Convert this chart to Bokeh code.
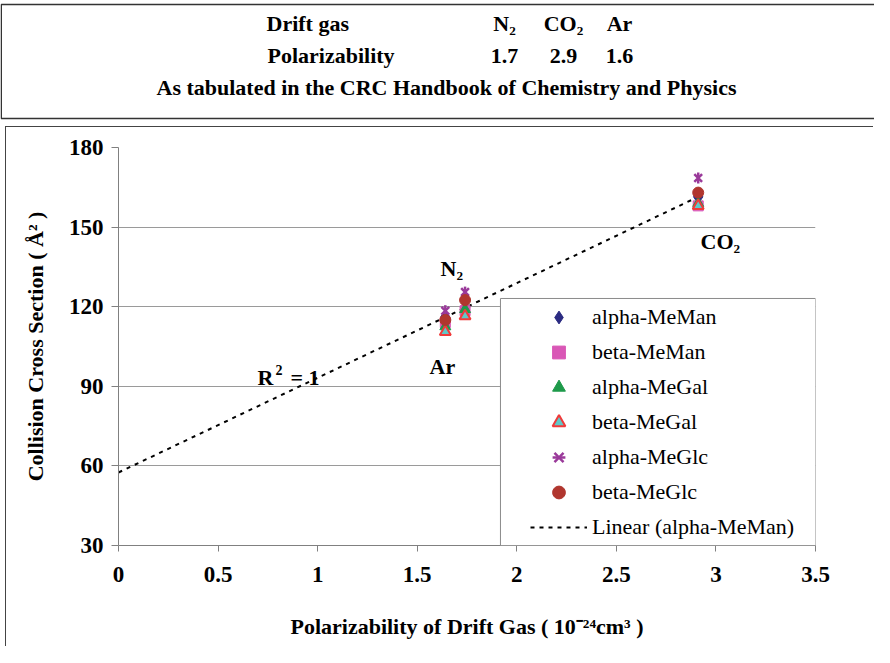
import numpy as np
from bokeh.plotting import figure
from bokeh.layouts import column, row
from bokeh.models import (Range1d, FixedTicker, Label, Legend, LegendItem,
                          BoxAnnotation, Spacer)
from bokeh.core.properties import value
from bokeh.embed import file_html
from bokeh.resources import INLINE

# ---------------- data ----------------
gases = ["N₂", "CO₂", "Ar"]
polarizability = [1.7403, 2.911, 1.6411]          # 10^-24 cm^3
alpha_meman = [119.6, 161.4, 116.1]
beta_meman = [118.5, 158.0, 114.0]
alpha_megal = [119.0, 159.0, 112.5]
beta_megal = [116.5, 158.0, 110.5]
alpha_meglc = [125.5, 168.5, 118.5]
beta_meglc = [122.5, 163.0, 115.0]
series_names = ["alpha-MeMan", "beta-MeMan", "alpha-MeGal", "beta-MeGal",
                "alpha-MeGlc", "beta-MeGlc"]
trend_name = "Linear (alpha-MeMan)"
x_ticks = [0, 0.5, 1, 1.5, 2, 2.5, 3, 3.5]
y_ticks = [30, 60, 90, 120, 150, 180]
header_row1 = "Drift gas"
header_row2 = "Polarizability"
header_row3 = "As tabulated in the CRC Handbook of Chemistry and Physics"

FONT = "Liberation Serif"

# ---------------- header table ----------------
hdr = figure(width=874, height=126, x_range=Range1d(8, 882), y_range=Range1d(134, 8),
             output_backend="svg", toolbar_location=None,
             x_axis_location=None, y_axis_location=None,
             min_border_left=0, min_border_right=0, min_border_top=0, min_border_bottom=0)
hdr.frame_align = False
hdr.grid.visible = False
hdr.outline_line_color = None
hdr.background_fill_color = "white"
hdr.add_layout(BoxAnnotation(left=8.75, right=900, top=12, bottom=126,
                             fill_alpha=0, line_color="#333333", line_alpha=1.0,
                             line_width=1.5))

col_x = [512, 571, 627]
txt_kw = dict(text_font=value(FONT), text_font_style="bold", text_font_size="22px",
              text_baseline="middle", text_color="black")
hdr.text(x=[274, 275], y=[31, 63], text=[header_row1, header_row2],
         text_align="left", **txt_kw)
hdr.text(x=col_x, y=[31] * 3, text=gases, text_align="center", **txt_kw)
hdr.text(x=col_x, y=[63] * 3, text=[f"{v:.1f}" for v in polarizability],
         text_align="center", **txt_kw)
hdr.text(x=[454], y=[95], text=[header_row3], text_align="center", **txt_kw)

# ---------------- main chart ----------------
p = figure(width=868, height=520, x_range=Range1d(0, 3.5), y_range=Range1d(30, 180),
           output_backend="svg", toolbar_location=None,
           min_border_left=112, min_border_right=59, min_border_top=20, min_border_bottom=102,
           styles={"border-left": "1px solid #444444", "border-top": "1px solid #444444"})
p.frame_align = False
p.outline_line_color = None
p.xgrid.visible = False
p.ygrid.grid_line_color = "#9a9a9a"
p.ygrid.grid_line_width = 1

for ax in (p.xaxis[0], p.yaxis[0]):
    ax.axis_line_color = "#808080"
    ax.major_tick_line_color = "#808080"
    ax.minor_tick_line_color = None
    ax.major_tick_in = 0
    ax.major_label_text_font = FONT
    ax.major_label_text_font_style = "bold"
    ax.major_label_text_font_size = "23px"
    ax.major_label_text_color = "black"
    ax.axis_label_text_font = FONT
    ax.axis_label_text_font_style = "bold"
    ax.axis_label_text_font_size = "22px"
    ax.axis_label_text_color = "black"

p.xaxis.ticker = FixedTicker(ticks=x_ticks)
p.yaxis.ticker = FixedTicker(ticks=y_ticks)
p.xaxis.major_label_overrides = {0: "0", 1: "1", 2: "2", 3: "3"}
p.xaxis.major_tick_out = 6
p.yaxis.major_tick_out = 7
p.xaxis.major_label_standoff = 15
p.yaxis.major_label_standoff = 8
p.xaxis.axis_label = "Polarizability of Drift Gas ( 10⁻²⁴cm³ )"
p.yaxis.axis_label = "Collision Cross Section ( Å² )"
p.xaxis.axis_label_standoff = 29
p.yaxis.axis_label_standoff = 18

# linear trendline of alpha-MeMan
coef = np.polyfit(polarizability, alpha_meman, 1)
tx = [0.0, max(polarizability)]
ty = list(np.polyval(coef, tx))
r_trend = p.line(tx, ty, line_color="black", line_width=2, line_dash="4 5")

r1 = p.scatter(polarizability, alpha_meman, marker="diamond", size=14,
               fill_color="#2b2b82", line_color="#2b2b82")
r2 = p.scatter(polarizability, beta_meman, marker="square", size=10,
               fill_color="#d957b6", line_color="#d957b6")
r3 = p.scatter(polarizability, alpha_megal, marker="triangle", size=11,
               fill_color="#1e9a4a", line_color="#1e9a4a")
r4 = p.scatter(polarizability, beta_megal, marker="triangle", size=11,
               fill_color="#5fc8c8", line_color="#f03a3a", line_width=2)
r5a = p.scatter(polarizability, alpha_meglc, marker="x", size=11,
                line_color="#9a3a9a", line_width=2.5)
r5b = p.scatter(polarizability, alpha_meglc, marker="dash", size=11, angle=np.pi / 2,
                line_color="#9a3a9a", line_width=2.5)
r6 = p.scatter(polarizability, beta_meglc, marker="circle", size=11,
               fill_color="#b0362e", line_color="#b0362e")

# legend box
legend_box = BoxAnnotation(left=1.918, right=3.5, top=123.1, bottom=30,
                           fill_color="white", fill_alpha=1.0,
                           line_color="#8a8a8a", line_alpha=1.0, line_width=1)
p.add_layout(legend_box)

legend = Legend(items=[
    LegendItem(label=series_names[0], renderers=[r1]),
    LegendItem(label=series_names[1], renderers=[r2]),
    LegendItem(label=series_names[2], renderers=[r3]),
    LegendItem(label=series_names[3], renderers=[r4]),
    LegendItem(label=series_names[4], renderers=[r5a, r5b]),
    LegendItem(label=series_names[5], renderers=[r6]),
    LegendItem(label=trend_name, renderers=[r_trend]),
], location=(410, 0), glyph_width=57, glyph_height=32, label_height=32, spacing=3,
    padding=2, label_standoff=5, label_text_font=FONT, label_text_font_size="22px",
    label_text_color="black", border_line_alpha=0, background_fill_alpha=0)
p.add_layout(legend)

# annotations
lab_kw = dict(text_font=FONT, text_font_style="bold", text_font_size="22px",
              text_color="black", text_baseline="middle")
p.add_layout(Label(x=1.617, y=134.4, text=gases[0], **lab_kw))
p.add_layout(Label(x=2.923, y=144.6, text=gases[1], **lab_kw))
p.add_layout(Label(x=1.562, y=97.6, text=gases[2], **lab_kw))
p.add_layout(Label(x=0.698, y=93.3, text="R", **lab_kw))
p.add_layout(Label(x=0.698, y=93.3, x_offset=18, y_offset=8, text="2",
                   text_font=FONT, text_font_style="bold", text_font_size="14px",
                   text_color="black", text_baseline="middle"))
p.add_layout(Label(x=0.698, y=93.3, x_offset=33, text="= 1", **lab_kw))

layout = column(hdr, row(Spacer(width=5, height=520), p))
open("out.html", "w").write(file_html(layout, INLINE))
